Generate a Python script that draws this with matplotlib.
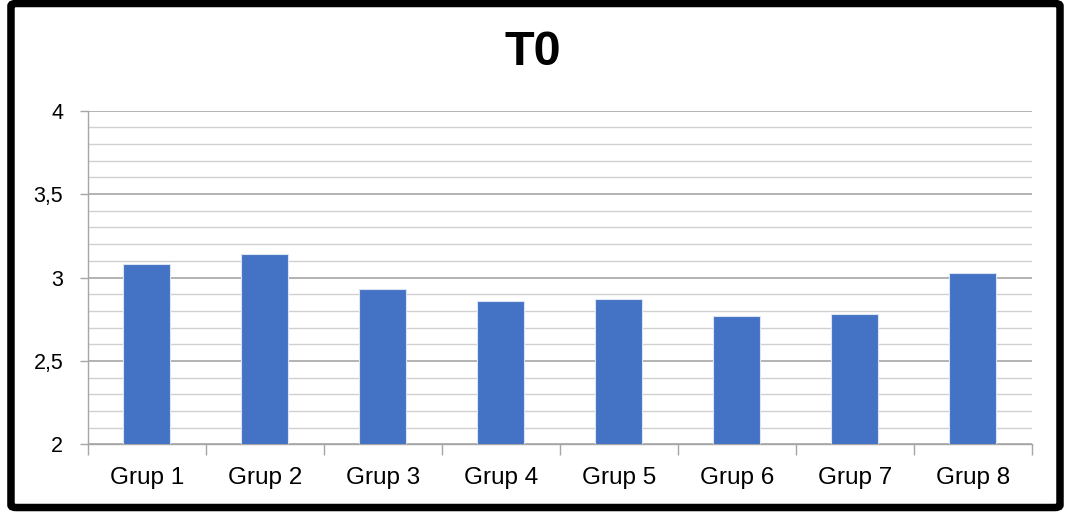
import numpy as np
import matplotlib.pyplot as plt
from matplotlib.patches import FancyBboxPatch
from matplotlib.ticker import MultipleLocator, FuncFormatter

plt.rcParams['font.family'] = ['Liberation Sans', 'DejaVu Sans']

groups = ['Grup 1', 'Grup 2', 'Grup 3', 'Grup 4', 'Grup 5', 'Grup 6', 'Grup 7', 'Grup 8']
values = [3.08, 3.14, 2.93, 2.86, 2.87, 2.77, 2.78, 3.03]
title = 'T0'

fig = plt.figure(figsize=(10.65, 5.13), dpi=100)
ax = fig.add_axes([0.0823, 0.1339, 0.8864, 0.6503])

x = np.arange(len(groups))
ax.bar(x, values, width=0.40, color='#4472C4', edgecolor='#dbe4f5',
       linewidth=0.8, zorder=3)

ax.set_xlim(-0.5, len(groups) - 0.5)
ax.set_ylim(2, 4)
ax.yaxis.set_major_locator(MultipleLocator(0.5))
ax.yaxis.set_minor_locator(MultipleLocator(0.1))
ax.yaxis.set_major_formatter(FuncFormatter(lambda v, p: ('%g' % v).replace('.', ',')))
ax.grid(which='major', axis='y', color='#a6a6a6', linewidth=1.2, zorder=0)
ax.grid(which='minor', axis='y', color='#d0d0d0', linewidth=1.0, zorder=0)

# category labels centred, ticks on the boundaries between categories
ax.set_xticks(x)
ax.set_xticklabels(groups)
ax.set_xticks(np.arange(-0.5, len(groups)), minor=True)
ax.tick_params(axis='x', which='major', length=0, pad=16, labelsize=17.5)
ax.tick_params(axis='x', which='minor', length=8, width=1, color='#a6a6a6')
ax.tick_params(axis='y', which='major', length=6, width=1, color='#a6a6a6',
               pad=11.5, labelsize=15.5)
ax.tick_params(axis='y', which='minor', length=0)

for side in ['top', 'right']:
    ax.spines[side].set_visible(False)
for side in ['left', 'bottom']:
    ax.spines[side].set_color('#a6a6a6')
    ax.spines[side].set_linewidth(1.0)

fig.text(0.5, 0.898, title, ha='center', va='center', fontsize=35,
         fontweight='bold')

# thick black frame round the whole chart
frame = FancyBboxPatch((0.0103, 0.0107), 0.985, 0.9825,
                       boxstyle='round,pad=0,rounding_size=0.005',
                       transform=fig.transFigure, fill=False,
                       edgecolor='black', linewidth=5.4)
fig.patches.append(frame)

fig.savefig('out.png', dpi=100)
